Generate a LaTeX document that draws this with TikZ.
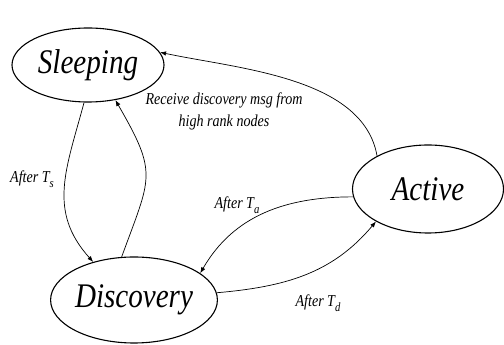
\documentclass[tikz,border=0pt]{standalone}
\usepackage{fontspec}
\setmainfont{Liberation Serif}
\usetikzlibrary{arrows.meta,positioning,shapes.geometric}
\newcommand{\lowidx}[1]{\raisebox{-.6ex}{\fontsize{11}{12}\selectfont #1}}
\newcommand{\tallword}[1]{\scalebox{.97}[1.15]{#1}}

\begin{document}
\begin{tikzpicture}[x=1pt,y=1pt,
state/.style={ellipse,draw,line width=1.1pt,inner sep=0pt,font=\fontsize{30}{36}\selectfont\itshape},
lbl/.style={font=\fontsize{14.5}{22}\selectfont\itshape,align=center,inner sep=0pt},
trans/.style={line width=.7pt,-{Latex[length=6pt,width=4.5pt]}}]
\useasboundingbox (0,0) rectangle (504,345);
\node[state,minimum width=152pt,minimum height=74pt] (S) at (88,280) {\tallword{Sleeping}};
\node[state,minimum width=151pt,minimum height=88pt] (A) at (428,156) {\tallword{Active}};
\node[state,minimum width=152pt,minimum height=86pt] (D) at (134,45) {\tallword{Discovery}};
\draw[trans] (A.147) to[out=100,in=-12,looseness=.85] (S.10);
\draw[trans] (S.-96) to[out=-105,in=132,looseness=1.1] (D.137);
\draw[trans] (D.106) to[out=70,in=-60,looseness=1.4] (S.-52);
\draw[trans] (A.186) to[out=180,in=60] (D.22);
\draw[trans] (D.5) to[out=5,in=-130] (A.-148);
\node[lbl] (rcv) at (224,234) {\tallword{Receive discovery msg from}\\\tallword{high rank nodes}};
\node[lbl] (ts) at (32,166) {\tallword{After T\lowidx{s}}};
\node[lbl] (ta) at (237,140) {\tallword{After T\lowidx{a}}};
\node[lbl] (td) at (318,42) {\tallword{After T\lowidx{d}}};
\end{tikzpicture}
\end{document}
